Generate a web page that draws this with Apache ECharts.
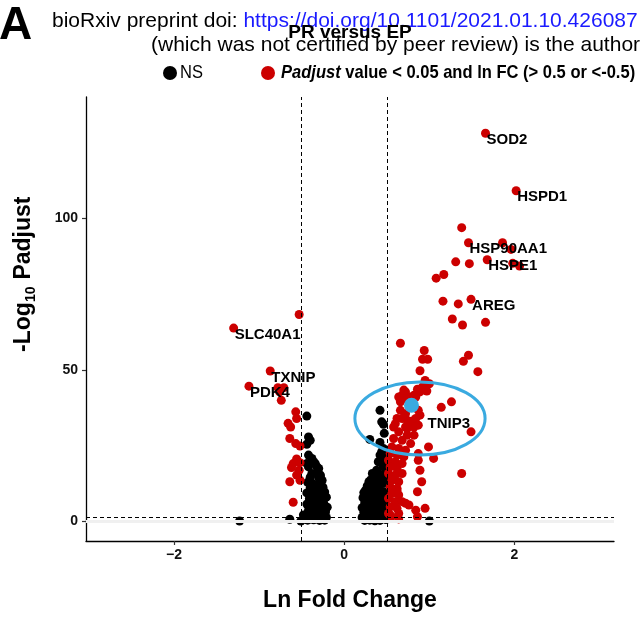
<!DOCTYPE html>
<html><head><meta charset="utf-8">
<script src="https://cdn.jsdelivr.net/npm/echarts@6/dist/echarts.min.js"></script>
<style>html,body{margin:0;padding:0;background:#fff}#c{width:642px;height:621px}</style>
</head><body><div id="c"></div>
<script>
// ---------- data ----------
const xTicks = [-2, 0, 2];
const yTicks = [0, 50, 100];
const fcCut = [-0.5, 0.5];
const pCut = 1.301;

// significant genes (Padjust < 0.05 and |ln FC| > 0.5)
const sigUpper = [[1.66,128.2],[2.02,109.2],[1.38,97.0],[1.46,92.0],[1.86,92.0],[1.96,89.8],[1.31,85.7],[1.47,85.1],[1.68,86.4],[1.98,85.2],[2.06,84.3],[1.17,81.5],[1.08,80.3],[1.16,72.7],[1.34,71.8],[1.49,73.3],[1.27,66.8],[1.39,64.8],[1.66,65.7],[0.66,58.8],[0.94,56.4],[0.92,53.5],[0.98,53.5],[1.46,54.8],[1.40,52.8],[1.57,49.4],[0.89,49.7],[0.95,46.5],[1.00,45.4],[0.92,44.3],[0.86,43.6],[0.89,42.7],[0.82,41.6],[0.78,41.0],[0.72,42.7],[0.68,41.6],[0.70,40.5],[0.66,39.4],[0.64,41.0],[1.26,39.4],[1.14,37.6],[0.87,36.6],[0.89,35.0],[0.84,33.9],[0.80,33.1],[0.74,33.3],[0.68,33.9],[0.62,33.9],[0.87,31.7],[0.82,31.1],[0.72,31.1],[1.49,29.5],[0.99,24.5],[1.05,20.7],[0.87,22.3],[0.89,16.8],[0.91,13.0],[0.86,9.7],[0.95,4.2],[0.84,3.6],[0.86,1.4],[1.38,15.7],[0.97,43.0],[0.70,43.3],[0.84,41.0],[0.66,36.6],[0.72,35.5],[0.58,31.1],[0.74,30.6],[0.87,20.1]];
const sigColumn = [[0.60,32.2],[0.76,32.9],[0.64,29.5],[0.74,28.4],[0.82,28.4],[0.58,27.3],[0.68,26.7],[0.78,25.6],[0.56,24.5],[0.64,24.0],[0.72,23.4],[0.54,22.3],[0.62,21.8],[0.70,21.2],[0.52,20.1],[0.60,19.6],[0.68,19.0],[0.54,17.9],[0.62,17.4],[0.52,15.7],[0.60,15.2],[0.68,15.7],[0.56,13.5],[0.64,13.0],[0.54,11.3],[0.62,10.8],[0.56,9.1],[0.64,8.6],[0.52,7.5],[0.60,6.4],[0.68,6.4],[0.54,4.7],[0.62,4.2],[0.52,2.5],[0.55,1.4],[0.64,2.5],[0.62,10.2],[0.54,2.0],[0.72,5.9],[0.76,5.3],[0.64,0.7]];
const sigLeft = [[-0.53,68.3],[-1.30,63.8],[-0.87,49.6],[-1.12,44.6],[-0.78,44.1],[-0.71,44.1],[-0.76,42.7],[-0.74,39.9],[-0.57,36.1],[-0.56,33.9],[-0.66,32.3],[-0.63,31.1],[-0.64,27.3],[-0.57,25.6],[-0.52,24.8],[-0.56,20.5],[-0.60,19.0],[-0.52,19.3],[-0.62,17.7],[-0.53,16.8],[-0.56,15.2],[-0.64,13.0],[-0.52,13.5],[-0.60,6.2]];

// not significant genes
const nsLeft = [[-1.23,0],[-0.64,0.6],[-0.51,0],[-0.48,2.0],[-0.44,34.7],[-0.42,27.8],[-0.40,26.7],[-0.44,25.4],[-0.42,21.8],[-0.38,20.7],[-0.36,19.6],[-0.44,19.0],[-0.34,19.0],[-0.32,17.9],[-0.42,17.9],[-0.30,17.4],[-0.38,15.7],[-0.28,15.2],[-0.40,14.5],[-0.28,14.5],[-0.40,13.5],
[-0.43,12.8],[-0.36,12.2],[-0.29,12.6],[-0.40,11.0],[-0.33,10.5],[-0.25,11.2],[-0.44,9.3],[-0.37,8.8],[-0.30,9.0],[-0.23,9.6],[-0.41,7.4],[-0.34,7.0],[-0.27,7.6],[-0.21,7.9],[-0.44,5.6],[-0.38,5.2],[-0.31,5.4],[-0.24,5.8],[-0.20,4.6],[-0.42,3.6],[-0.35,3.3],[-0.28,3.7],[-0.22,3.0],[-0.46,1.9],[-0.39,1.6],[-0.32,1.8],[-0.25,1.5],[-0.21,1.2],[-0.48,0.6],[-0.43,0.3],[-0.36,0.4],[-0.29,0.2],[-0.23,0.3],[-0.30,14.4],[-0.26,13.4],[-0.33,15.8]];
const nsMiddle = [[0.42,36.6],[0.44,32.8],[0.46,32.0],[0.30,27.0],[0.46,24.0],[0.44,22.9],[0.48,21.2],[0.42,21.8],[0.40,19.6],[0.46,17.9],[0.38,16.8],[0.33,15.7],[0.44,15.2],[0.36,14.1],[0.29,13.0],[0.42,12.4],[0.33,11.3],[0.25,10.2],[0.38,10.2],[0.46,9.7],
[0.23,9.4],[0.30,9.8],[0.37,9.1],[0.44,9.6],[0.49,8.8],[0.22,7.7],[0.28,8.0],[0.34,7.5],[0.41,7.9],[0.47,7.2],[0.24,6.0],[0.31,6.3],[0.38,5.8],[0.45,6.1],[0.49,5.2],[0.21,4.4],[0.27,4.7],[0.34,4.2],[0.40,4.5],[0.46,3.9],[0.23,2.8],[0.29,3.1],[0.36,2.6],[0.43,2.9],[0.49,2.3],[0.21,1.2],[0.26,1.5],[0.32,1.0],[0.39,1.3],[0.45,0.9],[0.49,0.5],[0.24,0.2],[0.30,0.3],[0.36,0.1],[0.42,0.2],[0.27,11.6],[0.35,12.0],[0.41,11.2],[0.47,12.5],[0.31,13.6],[0.39,14.6],[0.48,14.0],[0.45,18.8],[0.49,16.4],[0.42,26.0],[0.47,29.0],[1.00,0]];

const highlight = [[0.79, 38.3]];
const geneNames = ['SOD2','HSPD1','HSP90AA1','HSPE1','AREG','SLC40A1','TXNIP','PDK4','TNIP3'];
const geneX = [1.66, 2.02, 1.46, 1.68, 1.49, -1.30, -0.87, -1.12, 0.79];
const geneY = [128.2, 109.2, 92.0, 86.4, 73.3, 63.8, 49.6, 44.6, 38.3];
const circleCenter = [0.89, 33.9];
const circleRadius = [0.765, 12.1];

// ---------- styles ----------
const RED = '#cc0000', BLUE = '#3aaae0';
const labelNudge = { TNIP3: [15, 12] };
const FONT = '"Liberation Sans", Arial, sans-serif';

const chart = echarts.init(document.getElementById('c'), null, { renderer: 'canvas' });

const sigAll = sigUpper.concat(sigColumn, sigLeft);
const nsAll = nsLeft.concat(nsMiddle);

chart.setOption({
  animation: false,
  backgroundColor: '#fff',
  textStyle: { fontFamily: FONT },
  grid: { left: 86, right: 28, top: 97, bottom: 80 },
  xAxis: {
    type: 'value', min: -3.035, max: 3.17,
    splitLine: { show: false },
    axisLine: { show: true, onZero: false, lineStyle: { color: '#000', width: 1.3 } },
    axisTick: { show: true, length: 4, customValues: xTicks, lineStyle: { color: '#333', width: 1.2 } },
    axisLabel: { customValues: xTicks, margin: 7, color: '#111', fontWeight: 'bold', fontSize: 14, fontFamily: FONT,
      formatter: v => v < 0 ? '\u2212' + Math.abs(v) : String(v) },
    name: 'Ln Fold Change', nameLocation: 'middle', nameGap: 48,
    nameTextStyle: { color: '#000', fontWeight: 'bold', fontSize: 23, fontFamily: FONT }
  },
  yAxis: {
    type: 'value', min: -6.6, max: 140.2,
    splitLine: { show: false },
    axisLine: { show: true, onZero: false, lineStyle: { color: '#000', width: 1.3 } },
    axisTick: { show: true, length: 4, customValues: yTicks, lineStyle: { color: '#333', width: 1.2 } },
    axisLabel: { customValues: yTicks, margin: 8, color: '#111', fontWeight: 'bold', fontSize: 14, fontFamily: FONT }
  },
  series: [
    { type: 'scatter', data: [], z: 1, silent: true,
      markLine: { silent: true, symbol: 'none', label: { show: false }, animation: false,
        lineStyle: { color: '#f0f0f0', width: 3, type: 'solid' }, data: [{ yAxis: 0 }] } },
    { name: 'NS', type: 'scatter', data: nsAll, symbolSize: 9, z: 2,
      itemStyle: { color: '#000', opacity: 1 } },
    { name: 'sig', type: 'scatter', data: sigAll, symbolSize: 9, z: 3,
      itemStyle: { color: RED, opacity: 1 } },
    { type: 'scatter', data: [], z: 5, silent: true,
      markLine: { silent: true, symbol: 'none', label: { show: false }, animation: false,
        lineStyle: { color: '#000', width: 1, type: [4, 3] },
        data: [{ xAxis: fcCut[0] }, { xAxis: fcCut[1] }, { yAxis: pCut }] } },
    { name: 'highlight', type: 'scatter', data: highlight, symbolSize: 15, z: 7,
      itemStyle: { color: BLUE, opacity: 1 } },
    { name: 'labels', type: 'scatter', z: 8, symbolSize: 0, silent: true, itemStyle: { color: '#000', opacity: 1 },
      data: geneNames.map((n, i) => ({ name: n, value: [geneX[i], geneY[i]],
        label: labelNudge[n] ? { offset: labelNudge[n] } : undefined })),
      label: { show: true, formatter: '{b}', position: [1, -1], align: 'left', verticalAlign: 'top',
        color: '#000', opacity: 1, fontWeight: 'bold', fontSize: 15, fontFamily: FONT } }
  ]
});

const c0 = chart.convertToPixel({ gridIndex: 0 }, circleCenter);
const c1 = chart.convertToPixel({ gridIndex: 0 }, [circleCenter[0] + circleRadius[0], circleCenter[1] + circleRadius[1]]);

chart.setOption({
  graphic: [
    { type: 'text', id: 'A', left: -1, top: 3, z: 50,
      style: { text: 'A', font: 'bold 46px ' + FONT, fill: '#000' } },
    { type: 'text', id: 'l1', x: 52, y: 21, z: 50,
      style: { text: '{a|bioRxiv preprint doi: }{b|https://doi.org/10.1101/2021.01.10.426087}',
        verticalAlign: 'middle', textAlign: 'left',
        rich: { a: { font: '21px ' + FONT, fill: '#000' }, b: { font: '21px ' + FONT, fill: '#1a1aff' } } } },
    { type: 'text', id: 'l2', x: 151, y: 45, z: 50,
      style: { text: '(which was not certified by peer review) is the author', verticalAlign: 'middle', textAlign: 'left',
        font: '21px ' + FONT, fill: '#000' } },
    { type: 'text', id: 'title', x: 350, y: 33, z: 60,
      style: { text: 'PR versus EP', textAlign: 'center', verticalAlign: 'middle', font: 'bold 19px ' + FONT, fill: '#000' } },
    { type: 'circle', id: 'lgNS', z: 50, shape: { cx: 170, cy: 73, r: 7 }, style: { fill: '#000' } },
    { type: 'text', id: 'lgNSt', x: 180, y: 73, z: 50, scaleX: 0.87,
      style: { text: 'NS', verticalAlign: 'middle', textAlign: 'left', font: '19px ' + FONT, fill: '#000' } },
    { type: 'circle', id: 'lgSig', z: 50, shape: { cx: 268, cy: 73, r: 7 }, style: { fill: RED } },
    { type: 'text', id: 'lgSigt', x: 281, y: 73, z: 50, scaleX: 0.87,
      style: { text: '{i|Padjust}{n| value < 0.05 and ln FC (> 0.5 or <-0.5)}', verticalAlign: 'middle', textAlign: 'left',
        rich: { i: { font: 'italic bold 19px ' + FONT, fill: '#000' }, n: { font: 'bold 19px ' + FONT, fill: '#000' } } } },
    { type: 'text', id: 'yt1', x: 24, y: 352, rotation: Math.PI / 2, z: 50,
      style: { text: '-Log', textAlign: 'left', verticalAlign: 'middle', font: 'bold 23px ' + FONT, fill: '#000' } },
    { type: 'text', id: 'yt2', x: 31, y: 302, rotation: Math.PI / 2, z: 50,
      style: { text: '10', textAlign: 'left', verticalAlign: 'middle', font: 'bold 14px ' + FONT, fill: '#000' } },
    { type: 'text', id: 'yt3', x: 24, y: 286, rotation: Math.PI / 2, z: 50,
      style: { text: ' Padjust', textAlign: 'left', verticalAlign: 'middle', font: 'bold 23px ' + FONT, fill: '#000' } },
    { type: 'ellipse', id: 'ell', z: 40,
      shape: { cx: c0[0], cy: c0[1], rx: c1[0] - c0[0], ry: c0[1] - c1[1] },
      style: { fill: 'none', stroke: BLUE, lineWidth: 3 } }
  ]
});
</script></body></html>
